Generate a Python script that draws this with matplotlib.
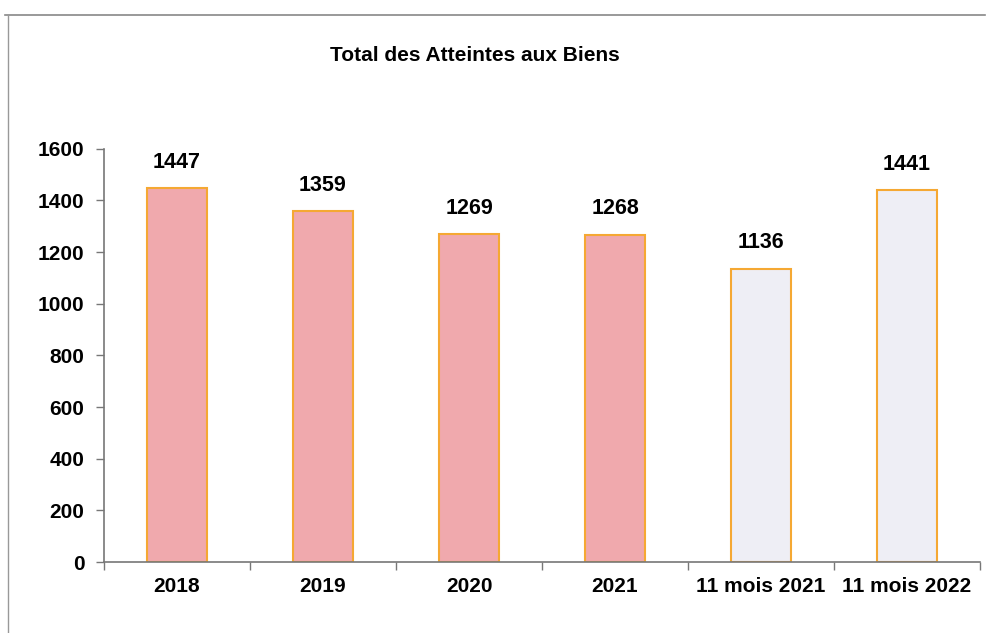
import matplotlib.pyplot as plt
from matplotlib.lines import Line2D
from matplotlib.ticker import FixedLocator

categories = ["2018", "2019", "2020", "2021", "11 mois 2021", "11 mois 2022"]
values = [1447, 1359, 1269, 1268, 1136, 1441]
fills = ["#F0A9AD", "#F0A9AD", "#F0A9AD", "#F0A9AD", "#EEEEF5", "#EEEEF5"]
yticks = [0, 200, 400, 600, 800, 1000, 1200, 1400, 1600]

plt.rcParams["font.family"] = ["Liberation Sans", "DejaVu Sans"]

fig = plt.figure(figsize=(9.9, 6.33), dpi=100)
ax = fig.add_axes([0.105, 0.112, 0.885, 0.653])

x = list(range(len(categories)))
ax.bar(x, values, width=0.41, color=fills, edgecolor="#F5A833", linewidth=1.5, zorder=2)

for xi, v in zip(x, values):
    ax.annotate(str(v), (xi, v), xytext=(0, 11), textcoords="offset points",
                ha="center", va="bottom", fontsize=15.5, fontweight="bold")

ax.set_xlim(-0.5, 5.5)
ax.set_ylim(0, 1600)
ax.set_yticks(yticks)
ax.set_yticklabels([str(t) for t in yticks], fontsize=15, fontweight="bold")
ax.set_xticks(x)
ax.set_xticklabels(categories, fontsize=15, fontweight="bold")
ax.xaxis.set_minor_locator(FixedLocator([i - 0.5 for i in range(len(categories) + 1)]))
ax.tick_params(axis="x", which="major", length=0, pad=11)
ax.tick_params(axis="x", which="minor", length=6, width=1, color="#777777", direction="out")
ax.tick_params(axis="y", length=6, width=1, color="#777777", pad=8)

for s in ["top", "right"]:
    ax.spines[s].set_visible(False)
for s in ["left", "bottom"]:
    ax.spines[s].set_color("#777777")
    ax.spines[s].set_linewidth(1.2)

fig.text(0.48, 0.912, "Total des Atteintes aux Biens", ha="center", va="center",
         fontsize=15, fontweight="bold")

# scanned page border
fig.add_artist(Line2D([0.005, 0.995], [0.977, 0.977], color="#888888", linewidth=1.2))
fig.add_artist(Line2D([0.008, 0.008], [0.0, 0.977], color="#999999", linewidth=1.0))

fig.savefig("out.png", dpi=100)
